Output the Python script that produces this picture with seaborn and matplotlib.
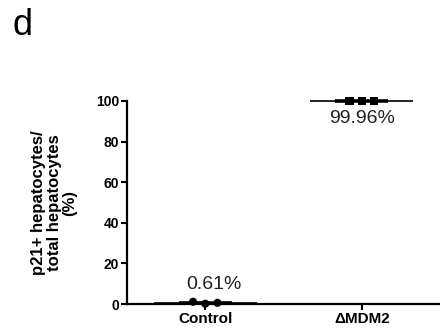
import numpy as np
import pandas as pd
import matplotlib
matplotlib.use("Agg")
import matplotlib.pyplot as plt
import seaborn as sns

# ---- data ----
groups = ["Control", "ΔMDM2"]
control_values = [1.1, 0.15, 0.58]
mdm2_values = [99.9, 100.0, 99.98]
mean_labels = ["0.61%", "99.96%"]
y_ticks = [0, 20, 40, 60, 80, 100]
y_label = "p21+ hepatocytes/\ntotal hepatocytes\n(%)"
panel_letter = "d"

sns.set_theme(style="ticks")
plt.rcParams["font.family"] = ["Liberation Sans", "DejaVu Sans"]

rows = []
for g, vals in zip(groups, [control_values, mdm2_values]):
    for i, v in enumerate(vals):
        rows.append({"group": g, "value": v, "rep": i})
df = pd.DataFrame(rows)
df["gidx"] = df["group"].map({g: i for i, g in enumerate(groups)})
df["xpos"] = df["gidx"] + (df["rep"] - 1) * 0.078

fig = plt.figure(figsize=(4.4, 3.34), dpi=100)
ax = fig.add_axes([127 / 440, 30 / 334, 313 / 440, 203 / 334])

sns.scatterplot(data=df, x="xpos", y="value", style="group",
                markers={"Control": "o", "ΔMDM2": "s"}, color="black",
                s=34, linewidth=0, legend=False, ax=ax, clip_on=False, zorder=4)

means = df.groupby("group", sort=False)["value"].mean()
for i, g in enumerate(groups):
    m = means[g]
    ax.hlines(m, i - 0.33, i + 0.33, color="black", lw=1.2, zorder=3, clip_on=False)
    ax.hlines(m, i - 0.17, i + 0.17, color="black", lw=2.6, zorder=3, clip_on=False)

ax.text(0.055, 9.8, mean_labels[0], ha="center", va="center", fontsize=14, color="#222222")
ax.text(1.0, 91.5, mean_labels[1], ha="center", va="center", fontsize=14, color="#222222")

ax.set_xlim(-0.5, 1.5)
ax.set_ylim(0, 100)
ax.set_xticks([0, 1])
ax.set_xticklabels(groups, fontsize=11, fontweight="bold")
ax.set_yticks(y_ticks)
ax.set_yticklabels([str(t) for t in y_ticks], fontsize=10, fontweight="bold")
ax.tick_params(axis="both", length=4, width=1.5, pad=1.5, colors="black")
ax.set_xlabel("")
ax.set_ylabel(y_label, fontsize=12, fontweight="bold", linespacing=1.08,
              va="center", ha="center", color="black")
ax.yaxis.set_label_coords((54 - 127) / 313, 0.5)

for side in ["top", "right"]:
    ax.spines[side].set_visible(False)
for side in ["left", "bottom"]:
    ax.spines[side].set_linewidth(1.6)
    ax.spines[side].set_color("black")
ax.set_facecolor("white")

fig.text(12 / 440, 1 - 8 / 334, panel_letter, fontsize=26, ha="left", va="top", color="black")

fig.savefig("out.png", dpi=100, facecolor="white")
